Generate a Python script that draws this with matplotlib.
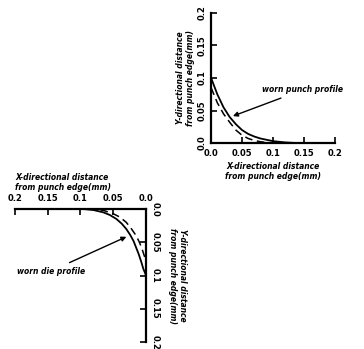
import matplotlib.pyplot as plt

# punch profile (upper right)
punch_x = [0.0, 0.01, 0.02, 0.03, 0.04, 0.05, 0.06, 0.07, 0.08, 0.1, 0.12, 0.14, 0.2]
punch_worn = [0.1, 0.075, 0.055, 0.04, 0.029, 0.020, 0.014, 0.010, 0.007, 0.003, 0.001, 0.0, 0.0]
punch_new = [0.085, 0.062, 0.045, 0.032, 0.02, 0.012, 0.007, 0.004, 0.002, 0.0, 0.0, 0.0, 0.0]

# die profile (lower left)
die_x = [0.2, 0.095, 0.08, 0.065, 0.055, 0.045, 0.037, 0.03, 0.024, 0.019,
         0.015, 0.011, 0.007, 0.004, 0.001, 0.0, 0.0]
die_worn = [0.0, 0.0, 0.0015, 0.005, 0.009, 0.015, 0.022, 0.03, 0.039, 0.048,
            0.058, 0.068, 0.08, 0.09, 0.097, 0.1, 0.2]
die_new_x = [0.2, 0.08, 0.065, 0.05, 0.04, 0.03, 0.022, 0.015, 0.01, 0.006, 0.002, 0.0, 0.0]
die_new = [0.0, 0.0, 0.002, 0.007, 0.012, 0.02, 0.03, 0.04, 0.05, 0.06, 0.072, 0.08, 0.2]

ticks = [0.0, 0.05, 0.1, 0.15, 0.2]
tick_labels = ['0.0', '0.05', '0.1', '0.15', '0.2']

xlabel = 'X-directional distance\nfrom punch edge(mm)'
ylabel = 'Y-directional distance\nfrom punch edge(mm)'

plt.rcParams['font.family'] = 'DejaVu Sans'

fig = plt.figure(figsize=(3.64, 3.49), dpi=100)

# ---- upper right: punch
ax1 = fig.add_axes([0.580, 0.590, 0.340, 0.373])
ax1.plot(punch_x, punch_worn, color='black', lw=1.3)
ax1.plot(punch_x, punch_new, color='black', lw=1.1, linestyle=(0, (5, 3)))
ax1.set_xlim(0, 0.2)
ax1.set_ylim(0, 0.2)
ax1.spines['top'].set_visible(False)
ax1.spines['right'].set_visible(False)
for s in ['left', 'bottom']:
    ax1.spines[s].set_linewidth(1.6)
ax1.set_xticks(ticks)
ax1.set_xticklabels(tick_labels, fontsize=6, fontweight='bold')
ax1.set_yticks(ticks)
ax1.set_yticklabels(tick_labels, fontsize=6, fontweight='bold', rotation=90, va='center')
ax1.tick_params(direction='in', length=4, width=1.2)
ax1.tick_params(axis='x', pad=4)
ax1.tick_params(axis='y', pad=3)
ax1.set_xlabel(xlabel, fontsize=5.5, fontweight='bold', fontstyle='italic', labelpad=3)
ax1.set_ylabel(ylabel, fontsize=5.5, fontweight='bold', fontstyle='italic', labelpad=2)
ax1.annotate('worn punch profile', xy=(0.031, 0.040), xytext=(0.083, 0.078),
             fontsize=5.5, fontweight='bold', fontstyle='italic', annotation_clip=False,
             arrowprops=dict(arrowstyle='-|>', color='black', lw=1.0, mutation_scale=7))

# ---- lower left: die
ax2 = fig.add_axes([0.041, 0.02, 0.360, 0.381])
ax2.plot(die_x, die_worn, color='black', lw=1.3)
ax2.plot(die_new_x, die_new, color='black', lw=1.1, linestyle=(0, (5, 3)))
ax2.set_xlim(0.2, 0)
ax2.set_ylim(0.2, 0)
ax2.spines['bottom'].set_visible(False)
ax2.spines['left'].set_visible(False)
for s in ['top', 'right']:
    ax2.spines[s].set_linewidth(1.6)
ax2.xaxis.tick_top()
ax2.xaxis.set_label_position('top')
ax2.yaxis.tick_right()
ax2.yaxis.set_label_position('right')
ax2.set_xticks(ticks)
ax2.set_xticklabels(tick_labels, fontsize=6, fontweight='bold')
ax2.set_yticks(ticks)
ax2.set_yticklabels(tick_labels, fontsize=6, fontweight='bold', rotation=270, va='center')
ax2.tick_params(direction='in', length=4, width=1.2)
ax2.tick_params(axis='x', pad=4)
ax2.tick_params(axis='y', pad=3)
ax2.set_xlabel(xlabel, fontsize=5.5, fontweight='bold', fontstyle='italic',
               labelpad=3, loc='left')
ax2.xaxis.label.set_multialignment('left')
ax2.set_ylabel(ylabel, fontsize=5.5, fontweight='bold', fontstyle='italic',
               rotation=270, labelpad=20)
ax2.annotate('worn die profile', xy=(0.026, 0.04), xytext=(0.197, 0.097),
             fontsize=5.5, fontweight='bold', fontstyle='italic', annotation_clip=False,
             arrowprops=dict(arrowstyle='-|>', color='black', lw=1.0, mutation_scale=7))

fig.savefig('out.png', dpi=100)
